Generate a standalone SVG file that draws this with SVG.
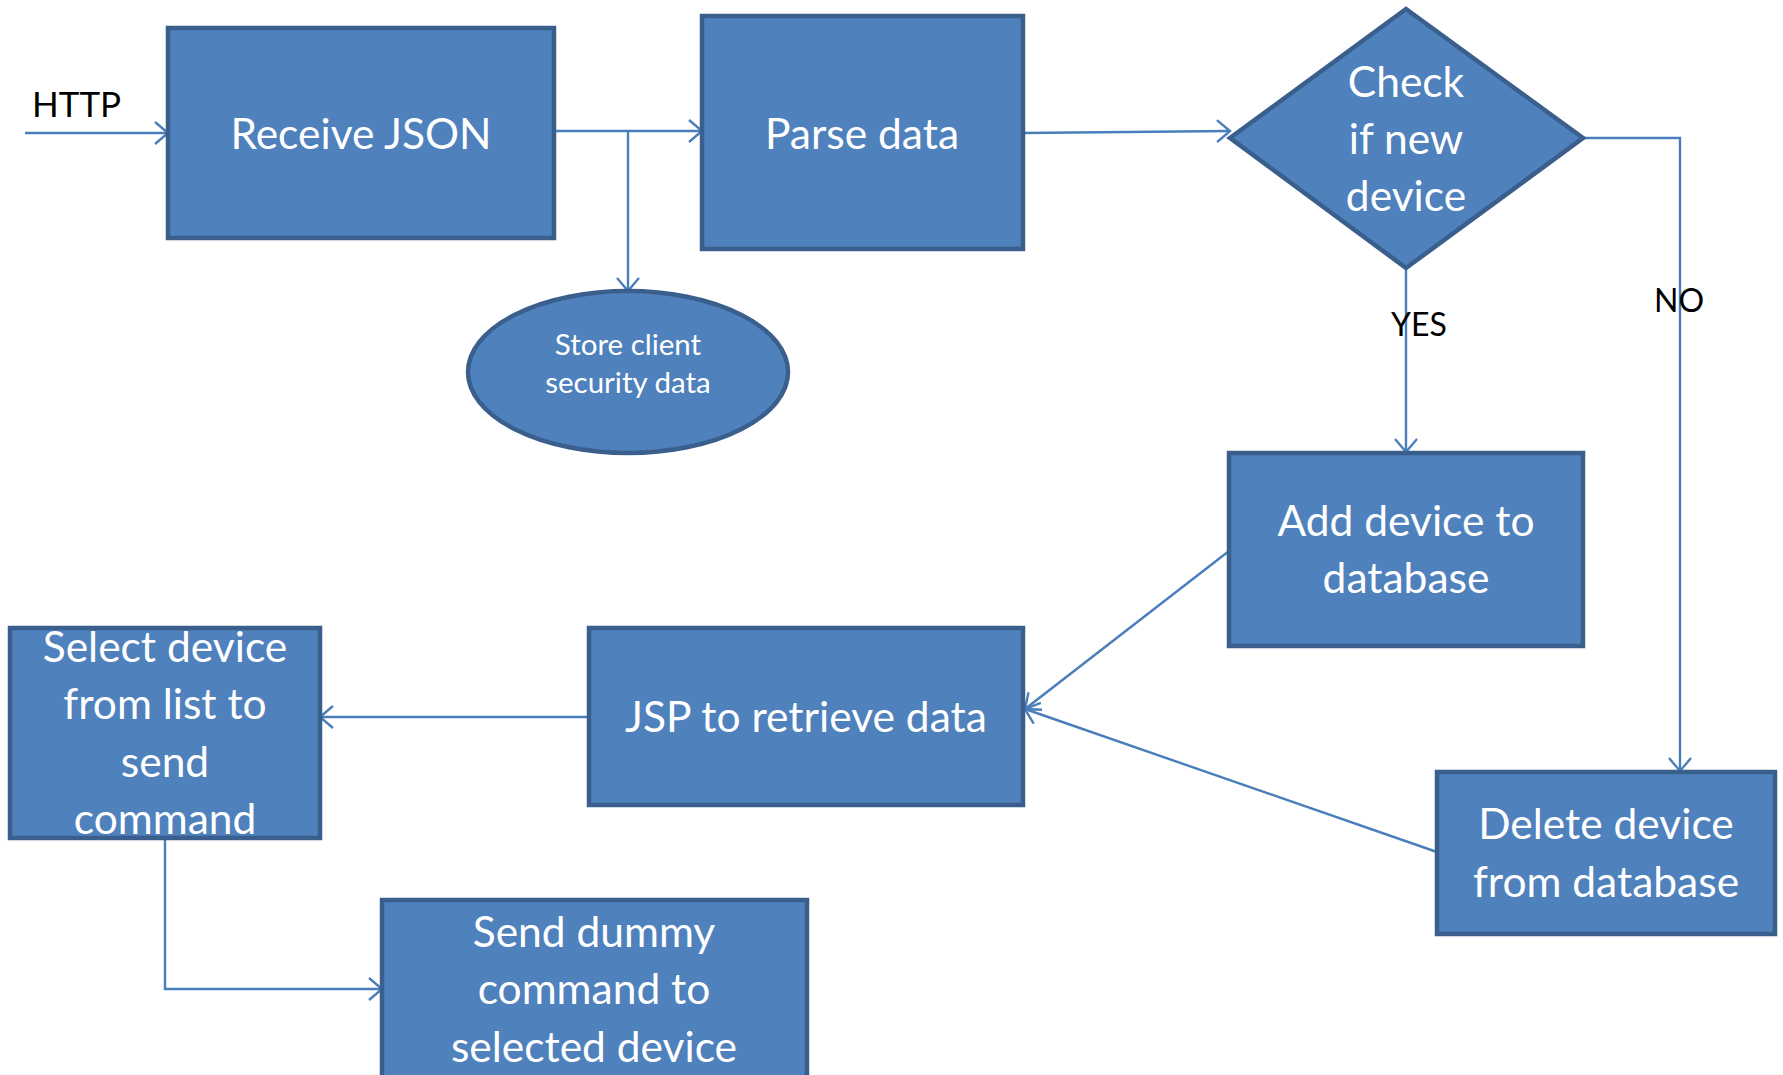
<svg xmlns="http://www.w3.org/2000/svg" width="1783" height="1075" viewBox="0 0 1783 1075">
<style>
.n{fill:#4F81BD;stroke:#3A5F8D;stroke-width:4.5}
.t{fill:#FFFFFF;font-family:Lato,"Open Sans",sans-serif;font-size:42.5px;text-anchor:middle}
.ts{fill:#FFFFFF;font-family:Lato,"Open Sans",sans-serif;font-size:29.5px;text-anchor:middle}
.l{fill:#000000;font-family:Lato,"Open Sans",sans-serif;font-size:32px}
.c{fill:none;stroke:#4A7EBB;stroke-width:2.4}
</style>
<defs>
<marker id="a" viewBox="-16 -13 18 26" refX="0" refY="0" markerWidth="18" markerHeight="26" markerUnits="userSpaceOnUse" orient="auto">
<path d="M-13,-11 L0,0 L-13,11" fill="none" stroke="#4A7EBB" stroke-width="2.4"/>
</marker>
</defs>
<g id="connectors">
<line class="c" x1="25" y1="133" x2="168" y2="133" marker-end="url(#a)"/>
<line class="c" x1="554" y1="131" x2="702" y2="131" marker-end="url(#a)"/>
<polyline class="c" points="628,131 628,291" marker-end="url(#a)"/>
<line class="c" x1="1023" y1="133" x2="1230" y2="131" marker-end="url(#a)"/>
<line class="c" x1="1406" y1="268" x2="1406" y2="452" marker-end="url(#a)"/>
<polyline class="c" points="1583,138 1680,138 1680,771" marker-end="url(#a)"/>
<line class="c" x1="1229" y1="551" x2="1025" y2="709" marker-end="url(#a)"/>
<line class="c" x1="1437" y1="852" x2="1025" y2="709" marker-end="url(#a)"/>
<line class="c" x1="589" y1="717" x2="320" y2="717" marker-end="url(#a)"/>
<polyline class="c" points="165,838 165,989 382,989" marker-end="url(#a)"/>
<text class="l" x="32" y="117" style="font-size:35px">HTTP</text>
<text class="l" x="1419" y="336" text-anchor="middle">YES</text>
<text class="l" x="1679" y="312" text-anchor="middle">NO</text>
</g>
<g id="receive">
<rect class="n" x="168" y="28" width="386" height="210"/>
<text class="t" x="361" y="149">Receive JSON</text>
</g>
<g id="parse">
<rect class="n" x="702" y="16" width="321" height="233"/>
<text class="t" x="862" y="149">Parse data</text>
</g>
<g id="check">
<polygon class="n" points="1406,9 1583,138 1406,268 1230,138"/>
<text class="t" x="1406" y="97">Check</text>
<text class="t" x="1406" y="154">if new</text>
<text class="t" x="1406" y="211">device</text>
</g>
<g id="store">
<ellipse class="n" cx="628" cy="372" rx="160" ry="81"/>
<text class="ts" x="628" y="355">Store client</text>
<text class="ts" x="628" y="393">security data</text>
</g>
<g id="add">
<rect class="n" x="1229" y="453" width="354" height="193"/>
<text class="t" x="1406" y="536">Add device to</text>
<text class="t" x="1406" y="593">database</text>
</g>
<g id="delete">
<rect class="n" x="1437" y="772" width="338" height="162"/>
<text class="t" x="1606" y="839">Delete device</text>
<text class="t" x="1606" y="897">from database</text>
</g>
<g id="jsp">
<rect class="n" x="589" y="628" width="434" height="177"/>
<text class="t" x="806" y="732">JSP to retrieve data</text>
</g>
<g id="select">
<rect class="n" x="10" y="628" width="310" height="210"/>
<text class="t" x="165" y="662">Select device</text>
<text class="t" x="165" y="719">from list to</text>
<text class="t" x="165" y="777">send</text>
<text class="t" x="165" y="834">command</text>
</g>
<g id="send">
<rect class="n" x="382" y="900" width="425" height="190"/>
<text class="t" x="594" y="947">Send dummy</text>
<text class="t" x="594" y="1004">command to</text>
<text class="t" x="594" y="1062">selected device</text>
</g>
</svg>
